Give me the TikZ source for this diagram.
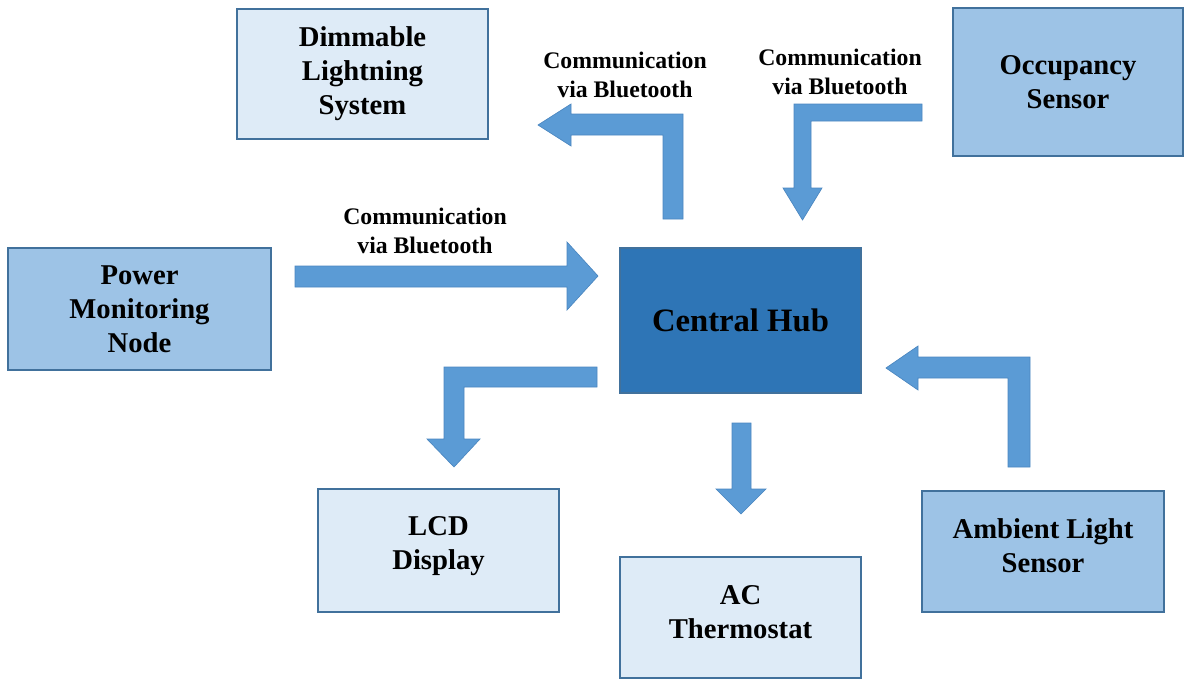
\documentclass[tikz,border=0pt]{standalone}
\usepackage{fontspec}
\setmainfont{Liberation Serif}
\definecolor{lightfill}{HTML}{DEEBF7}
\definecolor{midfill}{HTML}{9DC3E6}
\definecolor{hubfill}{HTML}{2E75B6}
\definecolor{boxline}{HTML}{41719C}
\definecolor{arrowfill}{HTML}{5B9BD5}
\definecolor{arrowline}{HTML}{4A86C0}
\begin{document}
\begin{tikzpicture}[x=0.75pt,y=-0.75pt,
  box/.style={draw=boxline, line width=0.9pt, inner sep=0pt, align=center,
    font=\bfseries\fontsize{21.5}{25.5}\selectfont},
  boxtext/.style={inner sep=0pt, align=center, font=\bfseries\fontsize{21.5}{25.5}\selectfont},
  lightbox/.style={box, fill=lightfill},
  midbox/.style={box, fill=midfill},
  hubbox/.style={box, fill=hubfill, font=\bfseries\fontsize{24.5}{29}\selectfont},
  comm/.style={align=center, inner sep=0pt, font=\bfseries\fontsize{17.8}{21.5}\selectfont},
  blockarrow/.style={fill=arrowfill, draw=arrowline, line width=0.5pt, line join=miter}]
\useasboundingbox (0,0) rectangle (1186,679);

% boxes
\node[lightbox, minimum width={251*0.75pt}, minimum height={130*0.75pt}] (dim) at (362.5,74) {Dimmable\\Lightning\\System};
\node[midbox, minimum width={230*0.75pt}, minimum height={148*0.75pt}] (occ) at (1068,82) {Occupancy\\Sensor};
\node[midbox, minimum width={263*0.75pt}, minimum height={122*0.75pt}] (pow) at (139.5,309) {Power\\Monitoring\\Node};
\node[hubbox, minimum width={241*0.75pt}, minimum height={145*0.75pt}] (hub) at (740.5,320.5) {Central Hub};
\node[lightbox, minimum width={241*0.75pt}, minimum height={123*0.75pt}] (lcd) at (438.5,550.5) {};
\node[boxtext] (lcdtext) at (438.5,546) {LCD\\Display};
\node[lightbox, minimum width={241*0.75pt}, minimum height={121*0.75pt}] (ac) at (740.5,617.5) {};
\node[boxtext] (actext) at (740.5,612) {AC\\Thermostat};
\node[midbox, minimum width={242*0.75pt}, minimum height={121*0.75pt}] (amb) at (1043,551.5) {};
\node[boxtext] (ambtext) at (1043,546) {Ambient Light\\Sensor};

% labels
\node[comm] (c1) at (625,75) {Communication\\via Bluetooth};
\node[comm] (c2) at (840,72) {Communication\\via Bluetooth};
\node[comm] (c3) at (425,231) {Communication\\via Bluetooth};

% block arrows
% hub -> dimmable
\draw[blockarrow] (663,219) -- (683,219) -- (683,114) -- (571,114) -- (571,104) -- (538,125)
  -- (571,146) -- (571,135) -- (663,135) -- cycle;
% occupancy -> hub
\draw[blockarrow] (922,104) -- (922,121) -- (811,121) -- (811,188) -- (822,188) -- (802.5,220)
  -- (783,188) -- (794,188) -- (794,104) -- cycle;
% power -> hub
\draw[blockarrow] (295,266) -- (567,266) -- (567,242) -- (598,276) -- (567,310) -- (567,287)
  -- (295,287) -- cycle;
% hub -> lcd
\draw[blockarrow] (597,367) -- (597,387) -- (464,387) -- (464,439) -- (480,439) -- (454,467)
  -- (427,439) -- (444,439) -- (444,367) -- cycle;
% hub -> ac
\draw[blockarrow] (732,423) -- (751,423) -- (751,489) -- (766,489) -- (741,514) -- (716,489)
  -- (732,489) -- cycle;
% ambient -> hub
\draw[blockarrow] (1008,467) -- (1030,467) -- (1030,357) -- (918,357) -- (918,346) -- (886,368)
  -- (918,390) -- (918,378) -- (1008,378) -- cycle;
\end{tikzpicture}
\end{document}
